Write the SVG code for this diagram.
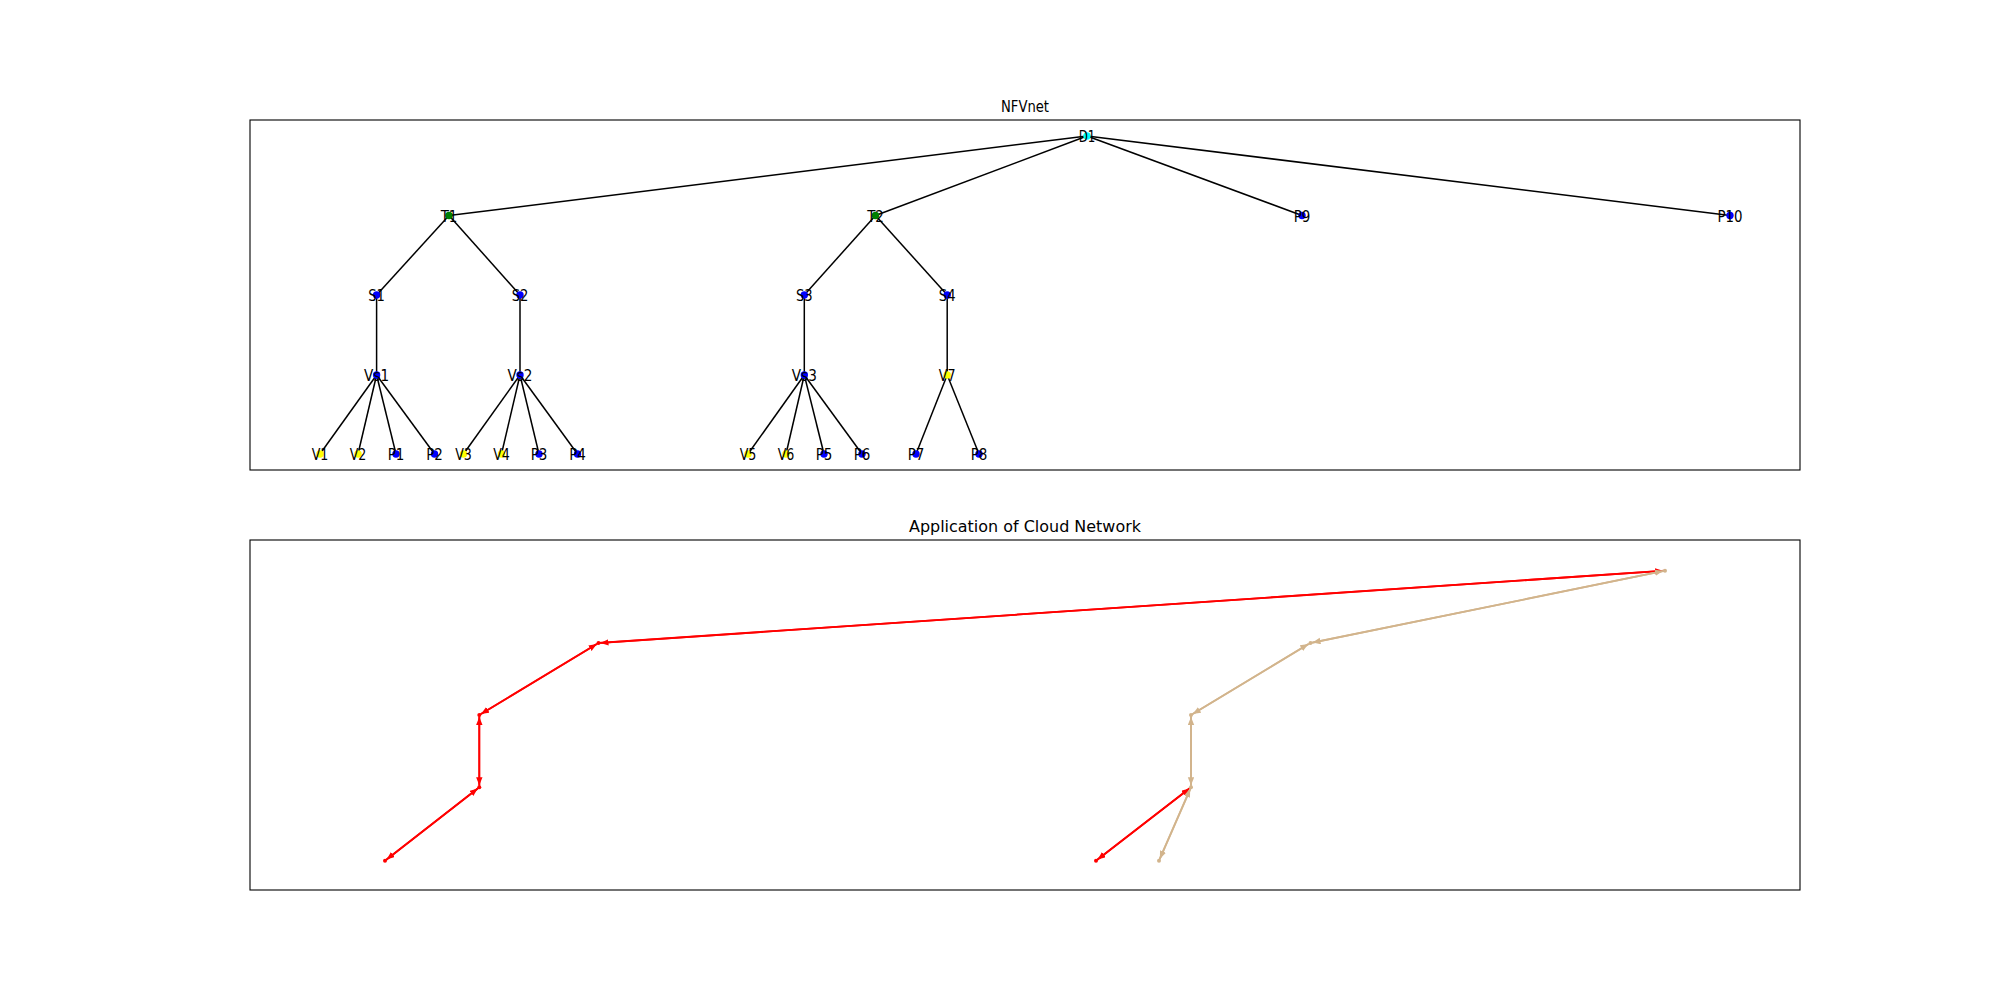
<svg xmlns="http://www.w3.org/2000/svg" width="2000" height="1000" viewBox="0 0 2000 1000">
<defs>
<style>
.frame{fill:none;stroke:#000;stroke-width:1.1}
.title{font-family:"DejaVu Sans","Liberation Sans",sans-serif;font-size:16.7px;fill:#000;text-anchor:middle}
.lbl{font-family:"DejaVu Sans","Liberation Sans",sans-serif;font-size:16.7px;fill:#000;text-anchor:middle;dominant-baseline:central}
.e{stroke:#000;stroke-width:1.5;fill:none}
.r{stroke:#ff0000;stroke-width:1.8;fill:none;marker-end:url(#ar)}
.t{stroke:#d2b48c;stroke-width:1.8;fill:none;marker-end:url(#at)}
.cy{fill:#00ffff}.gr{fill:#008000}.bl{fill:#0000ff}.ye{fill:#ffff00}
.rn{fill:#ff0000}.tn{fill:#d2b48c}
</style>
<marker id="ar" markerUnits="userSpaceOnUse" markerWidth="9" markerHeight="7" refX="8" refY="3.2" orient="auto" viewBox="0 0 9 7">
<path d="M0,0 L8,3.2 L0,6.4 z" fill="#ff0000"/>
</marker>
<marker id="at" markerUnits="userSpaceOnUse" markerWidth="9" markerHeight="7" refX="8" refY="3.2" orient="auto" viewBox="0 0 9 7">
<path d="M0,0 L8,3.2 L0,6.4 z" fill="#d2b48c"/>
</marker>
</defs>
<rect width="2000" height="1000" fill="#fff"/>

<!-- Top panel -->
<rect class="frame" x="250" y="120" width="1550" height="350"/>
<text class="title" x="1025" y="111.7" textLength="48" lengthAdjust="spacingAndGlyphs">NFVnet</text>

<g id="edges-top">
<line class="e" x1="1087" y1="136" x2="449" y2="215.5"/>
<line class="e" x1="1087" y1="136" x2="875.5" y2="215.5"/>
<line class="e" x1="1087" y1="136" x2="1302" y2="215.5"/>
<line class="e" x1="1087" y1="136" x2="1730" y2="215.5"/>
<line class="e" x1="449" y1="215.5" x2="376.6" y2="295"/>
<line class="e" x1="449" y1="215.5" x2="520" y2="295"/>
<line class="e" x1="875.5" y1="215.5" x2="804.3" y2="295"/>
<line class="e" x1="875.5" y1="215.5" x2="947.2" y2="295"/>
<line class="e" x1="376.6" y1="295" x2="376.6" y2="375"/>
<line class="e" x1="520" y1="295" x2="520" y2="375"/>
<line class="e" x1="804.3" y1="295" x2="804.3" y2="375"/>
<line class="e" x1="947.2" y1="295" x2="947.2" y2="375"/>
<line class="e" x1="376.6" y1="375" x2="320" y2="454"/>
<line class="e" x1="376.6" y1="375" x2="358" y2="454"/>
<line class="e" x1="376.6" y1="375" x2="396" y2="454"/>
<line class="e" x1="376.6" y1="375" x2="434.5" y2="454"/>
<line class="e" x1="520" y1="375" x2="463.5" y2="454"/>
<line class="e" x1="520" y1="375" x2="501.5" y2="454"/>
<line class="e" x1="520" y1="375" x2="539" y2="454"/>
<line class="e" x1="520" y1="375" x2="577.5" y2="454"/>
<line class="e" x1="804.3" y1="375" x2="748" y2="454"/>
<line class="e" x1="804.3" y1="375" x2="786" y2="454"/>
<line class="e" x1="804.3" y1="375" x2="824" y2="454"/>
<line class="e" x1="804.3" y1="375" x2="862" y2="454"/>
<line class="e" x1="947.2" y1="375" x2="916" y2="454"/>
<line class="e" x1="947.2" y1="375" x2="979" y2="454"/>
</g>

<g id="n-D1"><circle class="cy" cx="1087" cy="136" r="3.7"/><text class="lbl" x="1087" y="136" textLength="16.7" lengthAdjust="spacingAndGlyphs">D1</text></g>
<g id="n-T1"><circle class="gr" cx="449" cy="215.5" r="3.7"/><text class="lbl" x="449" y="215.5" textLength="16.7" lengthAdjust="spacingAndGlyphs">T1</text></g>
<g id="n-T2"><circle class="gr" cx="875.5" cy="215.5" r="3.7"/><text class="lbl" x="875.5" y="215.5" textLength="16.7" lengthAdjust="spacingAndGlyphs">T2</text></g>
<g id="n-P9"><circle class="bl" cx="1302" cy="215.5" r="3.7"/><text class="lbl" x="1302" y="215.5" textLength="16.7" lengthAdjust="spacingAndGlyphs">P9</text></g>
<g id="n-P10"><circle class="bl" cx="1730" cy="215.5" r="3.7"/><text class="lbl" x="1730" y="215.5" textLength="25" lengthAdjust="spacingAndGlyphs">P10</text></g>
<g id="n-S1"><circle class="bl" cx="376.6" cy="295" r="3.7"/><text class="lbl" x="376.6" y="295" textLength="16.7" lengthAdjust="spacingAndGlyphs">S1</text></g>
<g id="n-S2"><circle class="bl" cx="520" cy="295" r="3.7"/><text class="lbl" x="520" y="295" textLength="16.7" lengthAdjust="spacingAndGlyphs">S2</text></g>
<g id="n-S3"><circle class="bl" cx="804.3" cy="295" r="3.7"/><text class="lbl" x="804.3" y="295" textLength="16.7" lengthAdjust="spacingAndGlyphs">S3</text></g>
<g id="n-S4"><circle class="bl" cx="947.2" cy="295" r="3.7"/><text class="lbl" x="947.2" y="295" textLength="16.7" lengthAdjust="spacingAndGlyphs">S4</text></g>
<g id="n-Vs1"><circle class="bl" cx="376.6" cy="375" r="3.7"/><text class="lbl" x="376.6" y="375" textLength="25" lengthAdjust="spacingAndGlyphs">Vs1</text></g>
<g id="n-Vs2"><circle class="bl" cx="520" cy="375" r="3.7"/><text class="lbl" x="520" y="375" textLength="25" lengthAdjust="spacingAndGlyphs">Vs2</text></g>
<g id="n-Vs3"><circle class="bl" cx="804.3" cy="375" r="3.7"/><text class="lbl" x="804.3" y="375" textLength="25" lengthAdjust="spacingAndGlyphs">Vs3</text></g>
<g id="n-V7"><circle class="ye" cx="947.2" cy="375" r="3.7"/><text class="lbl" x="947.2" y="375" textLength="16.7" lengthAdjust="spacingAndGlyphs">V7</text></g>
<g id="n-V1"><circle class="ye" cx="320" cy="454" r="3.7"/><text class="lbl" x="320" y="454" textLength="16.7" lengthAdjust="spacingAndGlyphs">V1</text></g>
<g id="n-V2"><circle class="ye" cx="358" cy="454" r="3.7"/><text class="lbl" x="358" y="454" textLength="16.7" lengthAdjust="spacingAndGlyphs">V2</text></g>
<g id="n-P1"><circle class="bl" cx="396" cy="454" r="3.7"/><text class="lbl" x="396" y="454" textLength="16.7" lengthAdjust="spacingAndGlyphs">P1</text></g>
<g id="n-P2"><circle class="bl" cx="434.5" cy="454" r="3.7"/><text class="lbl" x="434.5" y="454" textLength="16.7" lengthAdjust="spacingAndGlyphs">P2</text></g>
<g id="n-V3"><circle class="ye" cx="463.5" cy="454" r="3.7"/><text class="lbl" x="463.5" y="454" textLength="16.7" lengthAdjust="spacingAndGlyphs">V3</text></g>
<g id="n-V4"><circle class="ye" cx="501.5" cy="454" r="3.7"/><text class="lbl" x="501.5" y="454" textLength="16.7" lengthAdjust="spacingAndGlyphs">V4</text></g>
<g id="n-P3"><circle class="bl" cx="539" cy="454" r="3.7"/><text class="lbl" x="539" y="454" textLength="16.7" lengthAdjust="spacingAndGlyphs">P3</text></g>
<g id="n-P4"><circle class="bl" cx="577.5" cy="454" r="3.7"/><text class="lbl" x="577.5" y="454" textLength="16.7" lengthAdjust="spacingAndGlyphs">P4</text></g>
<g id="n-V5"><circle class="ye" cx="748" cy="454" r="3.7"/><text class="lbl" x="748" y="454" textLength="16.7" lengthAdjust="spacingAndGlyphs">V5</text></g>
<g id="n-V6"><circle class="ye" cx="786" cy="454" r="3.7"/><text class="lbl" x="786" y="454" textLength="16.7" lengthAdjust="spacingAndGlyphs">V6</text></g>
<g id="n-P5"><circle class="bl" cx="824" cy="454" r="3.7"/><text class="lbl" x="824" y="454" textLength="16.7" lengthAdjust="spacingAndGlyphs">P5</text></g>
<g id="n-P6"><circle class="bl" cx="862" cy="454" r="3.7"/><text class="lbl" x="862" y="454" textLength="16.7" lengthAdjust="spacingAndGlyphs">P6</text></g>
<g id="n-P7"><circle class="bl" cx="916" cy="454" r="3.7"/><text class="lbl" x="916" y="454" textLength="16.7" lengthAdjust="spacingAndGlyphs">P7</text></g>
<g id="n-P8"><circle class="bl" cx="979" cy="454" r="3.7"/><text class="lbl" x="979" y="454" textLength="16.7" lengthAdjust="spacingAndGlyphs">P8</text></g>

<!-- Bottom panel -->
<rect class="frame" x="250" y="540" width="1550" height="350"/>
<text class="title" x="1025" y="531.7" textLength="232" lengthAdjust="spacingAndGlyphs">Application of Cloud Network</text>

<g id="edges-bottom">
<line class="r" x1="385" y1="860.7" x2="477.7" y2="788.5"/>
<line class="r" x1="479.3" y1="787.3" x2="386.6" y2="859.5"/>
<line class="r" x1="479.3" y1="787.3" x2="479.3" y2="717"/>
<line class="r" x1="479.3" y1="715" x2="479.3" y2="785.3"/>
<line class="r" x1="479.3" y1="715" x2="596.8" y2="644"/>
<line class="r" x1="598.5" y1="643" x2="481" y2="714"/>
<line class="r" x1="598.5" y1="643" x2="1663" y2="570.8"/>
<line class="r" x1="1665" y1="570.7" x2="600.5" y2="642.9"/>
<line class="r" x1="1096" y1="860.7" x2="1189.4" y2="788.5"/>
<line class="r" x1="1191" y1="787.3" x2="1097.6" y2="859.5"/>
<line class="t" x1="1191" y1="787.3" x2="1191" y2="717"/>
<line class="t" x1="1191" y1="715" x2="1191" y2="785.3"/>
<line class="t" x1="1191" y1="715" x2="1308.3" y2="644"/>
<line class="t" x1="1310.5" y1="643" x2="1192.7" y2="714"/>
<line class="t" x1="1310.5" y1="643" x2="1663" y2="571.1"/>
<line class="t" x1="1665" y1="570.7" x2="1312.5" y2="642.6"/>
<line class="t" x1="1159" y1="860.7" x2="1190.2" y2="789.1"/>
<line class="t" x1="1191" y1="787.3" x2="1159.8" y2="858.9"/>
</g>

<g id="n-a"><circle class="rn" cx="385" cy="860.7" r="2"/></g>
<g id="n-b"><circle class="rn" cx="479.3" cy="787.3" r="2"/></g>
<g id="n-c"><circle class="rn" cx="479.3" cy="715" r="2"/></g>
<g id="n-d"><circle class="rn" cx="598.5" cy="643" r="2"/></g>
<g id="n-f"><circle class="rn" cx="1096" cy="860.7" r="2"/></g>
<g id="n-g"><circle class="tn" cx="1191" cy="787.3" r="2"/></g>
<g id="n-h"><circle class="tn" cx="1191" cy="715" r="2"/></g>
<g id="n-i"><circle class="tn" cx="1310.5" cy="643" r="2"/></g>
<g id="n-j"><circle class="tn" cx="1159" cy="860.7" r="2"/></g>
<g id="n-e"><circle class="tn" cx="1665" cy="570.7" r="2"/></g>
</svg>
